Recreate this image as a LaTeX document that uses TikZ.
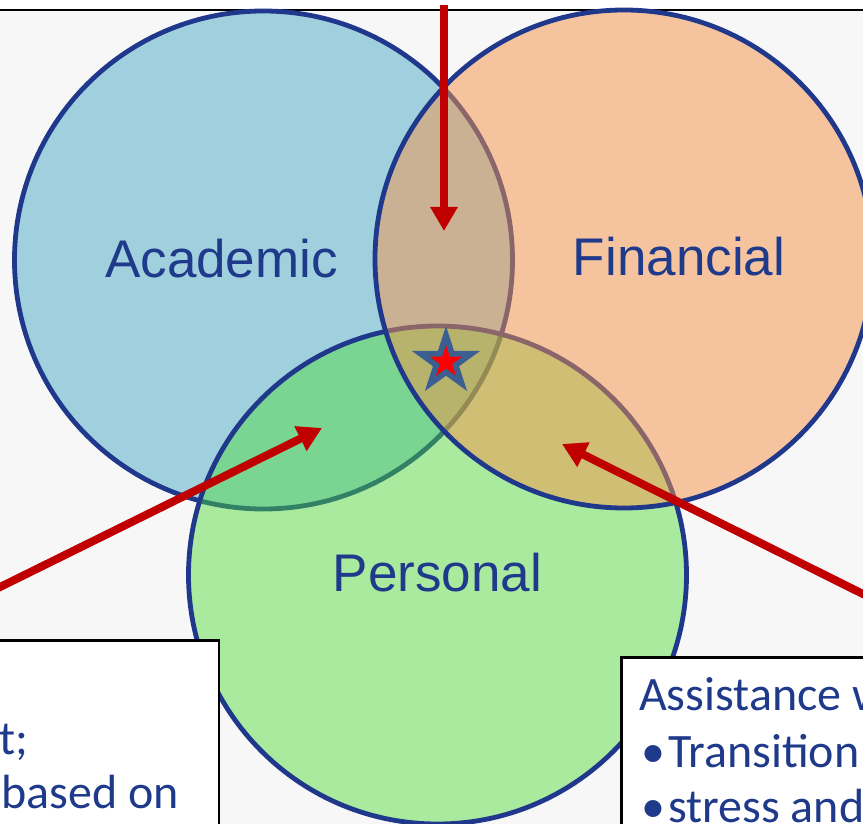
\documentclass[tikz,border=0pt]{standalone}
\usepackage{fontspec}
\setmainfont{Liberation Sans}
\newfontfamily\calibri{Carlito}
\usetikzlibrary{shapes.geometric,arrows.meta}
\definecolor{bgray}{HTML}{F7F7F7}
\definecolor{oblue}{RGB}{31,56,140}
\definecolor{txtblue}{RGB}{31,58,138}
\definecolor{acad}{RGB}{160,208,222}
\definecolor{pers}{RGB}{75,220,53}
\definecolor{fina}{RGB}{245,147,73}
\definecolor{arrred}{RGB}{192,0,0}
\definecolor{starblue}{RGB}{60,95,145}
\tikzset{
  circ/.style={circle, draw=oblue, line width=4.8pt, minimum size=498pt, inner sep=0pt},
  lbl/.style={text=txtblue, font=\fontsize{53}{60}\selectfont, inner sep=0pt, anchor=base},
  boxtxt/.style={text=txtblue, font=\calibri\fontsize{48}{56}\selectfont, inner sep=0pt, anchor=base west},
  panel/.style={draw=black, fill=white, line width=2.5pt, rectangle, inner sep=0pt},
  redarrow/.style={draw=arrred, line width=8pt, -{Triangle[length=24pt,width=26pt]}},
  starshape/.style={star, star points=5, star point ratio=2.618, inner sep=0pt}
}
\begin{document}
\begin{tikzpicture}[x=1pt,y=-1pt]
\useasboundingbox (0,0) rectangle (863,824);
\clip (0,0) rectangle (863,824);
\fill[bgray] (0,10) rectangle (863,824);
\draw[black,line width=2pt] (0,10.5) -- (863,10.5);
% circles
\node[circ, fill=acad] (A) at (263.5,260) {};
\node[circ, fill=pers, fill opacity=0.45] (P) at (437.5,575) {};
\node[circ, fill=fina, fill opacity=0.5] (F) at (624,259) {};
% labels
\node[lbl] (Alab) at (221.5,277) {Academic};
\node[lbl] (Flab) at (679,275) {Financial};
\node[lbl] (Plab) at (437.5,591) {Personal};
% star
\node[starshape, fill=starblue, minimum size=72pt] (star) at (446,362) {};
\node[starshape, fill=red, minimum size=34pt] (starin) at (446,362) {};
% boxes
\node[panel, minimum width=240pt, minimum height=230pt, anchor=north east] (lbox) at (220,639) {};
\node[panel, minimum width=260pt, minimum height=230pt, anchor=north west] (rbox) at (620,656) {};
\node[boxtxt] (l1) at (-1,754) {t;};
\node[boxtxt] (l2) at (1,808) {based on};
\node[boxtxt] (r1) at (639,710) {Assistance w};
\node[boxtxt] (r2) at (641,767) {\textbullet\hspace{3pt}Transition};
\node[boxtxt] (r3) at (641,822) {\textbullet\hspace{3pt}stress and};
% arrows
\coordinate (ttail) at (444,5);
\coordinate (ttip) at (444,231);
\coordinate (ltail) at (-10,592);
\coordinate (ltip) at (322,428);
\coordinate (rtail) at (875,600);
\coordinate (rtip) at (562,444);
\draw[redarrow] (ttail) -- (ttip);
\draw[redarrow] (ltail) -- (ltip);
\draw[redarrow] (rtail) -- (rtip);
\end{tikzpicture}
\end{document}
